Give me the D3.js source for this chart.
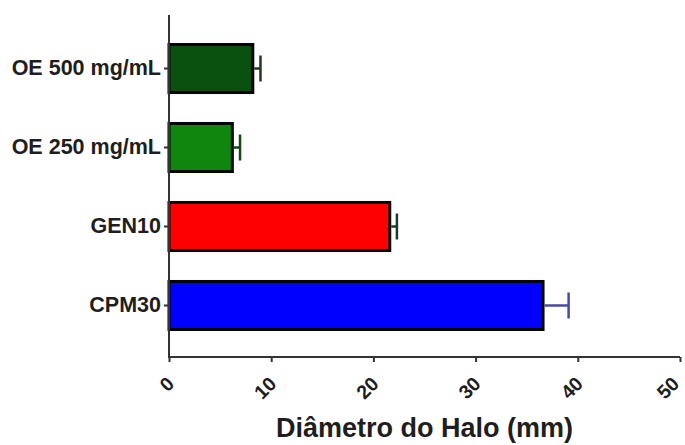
<!DOCTYPE html>
<html>
<head>
<meta charset="utf-8">
<script src="https://cdn.jsdelivr.net/npm/d3@7"></script>
<style>
  html, body { margin: 0; padding: 0; background: #ffffff; }
  svg { display: block; }
  text { font-family: "Liberation Sans", Arial, sans-serif; font-weight: bold; fill: #1e1e1e; }
</style>
</head>
<body>
<svg id="chart" width="685" height="445"></svg>
<script>
// Inhibition halo per treatment (mean and SEM, mm)
const categories = ["OE 500 mg/mL", "OE 250 mg/mL", "GEN10", "CPM30"];
const means = [8.2, 6.2, 21.6, 36.6];
const errors = [0.75, 0.75, 0.7, 2.5];
const fills = ["#0a500e", "#0f870f", "#ff0000", "#0000ff"];
const errorColors = ["#1c3a1c", "#134a13", "#1e3a2a", "#4848a8"];
const xTicks = [0, 10, 20, 30, 40, 50];
const xTitle = "Diâmetro do Halo (mm)";

const width = 685;
const svg = d3.select("#chart");
const plotLeft = 169, plotRight = 680, plotTop = 15, plotBottom = 357;

const x = d3.scaleLinear().domain([0, 50]).range([plotLeft, plotRight]);
const y = d3.scaleBand().domain(categories).range([17, plotBottom])
  .paddingInner(0.392).paddingOuter(0.348);

// bars
svg.append("g").selectAll("rect").data(categories).join("rect")
  .attr("x", x(0))
  .attr("y", d => y(d))
  .attr("width", (d, i) => x(means[i]) - x(0))
  .attr("height", y.bandwidth())
  .attr("fill", (d, i) => fills[i])
  .attr("stroke", "#050505")
  .attr("stroke-width", 3);

// one-sided error bars
const eb = svg.append("g").selectAll("g").data(categories).join("g");
eb.append("line")
  .attr("x1", (d, i) => x(means[i]) + 1.5)
  .attr("x2", (d, i) => x(means[i] + errors[i]))
  .attr("y1", d => y(d) + y.bandwidth() / 2)
  .attr("y2", d => y(d) + y.bandwidth() / 2)
  .attr("stroke", (d, i) => errorColors[i])
  .attr("stroke-width", 2.5);
eb.append("line")
  .attr("x1", (d, i) => x(means[i] + errors[i]))
  .attr("x2", (d, i) => x(means[i] + errors[i]))
  .attr("y1", d => y(d) + y.bandwidth() / 2 - 13)
  .attr("y2", d => y(d) + y.bandwidth() / 2 + 13)
  .attr("stroke", (d, i) => errorColors[i])
  .attr("stroke-width", 2.5);

// y axis
const yAxis = svg.append("g").attr("transform", `translate(${plotLeft},0)`)
  .call(d3.axisLeft(y).tickSize(5).tickPadding(3));
yAxis.select(".domain").remove();
yAxis.selectAll(".tick line").attr("stroke", "#333").attr("stroke-width", 2);
yAxis.selectAll(".tick text").style("font-size", "21.5px").attr("fill", "#1e1e1e");
svg.append("line").attr("x1", plotLeft).attr("x2", plotLeft).attr("y1", plotTop).attr("y2", plotBottom + 1)
  .attr("stroke", "#333").attr("stroke-width", 2);

// x axis, labels rotated 45 degrees; keep the last one inside the frame
const xAxis = svg.append("g").attr("transform", `translate(0,${plotBottom})`)
  .call(d3.axisBottom(x).tickValues(xTicks).tickSize(5).tickFormat(d3.format("d")));
xAxis.select(".domain").remove();
xAxis.selectAll(".tick line").attr("stroke", "#333").attr("stroke-width", 2);
xAxis.selectAll(".tick text")
  .style("font-size", "19.5px")
  .attr("fill", "#1e1e1e")
  .attr("text-anchor", "end")
  .attr("dominant-baseline", "central")
  .attr("y", 0).attr("dy", 0)
  .attr("transform", d => {
    const dx = Math.min(1, width - 1 - x(d) - 9);
    return `translate(${dx},23) rotate(-45)`;
  });
svg.append("line").attr("x1", plotLeft - 1).attr("x2", plotRight).attr("y1", plotBottom).attr("y2", plotBottom)
  .attr("stroke", "#333").attr("stroke-width", 2);

// axis title
svg.append("text")
  .attr("x", (plotLeft + plotRight) / 2)
  .attr("y", 437)
  .attr("text-anchor", "middle")
  .style("font-size", "27px")
  .text(xTitle);
</script>
</body>
</html>
